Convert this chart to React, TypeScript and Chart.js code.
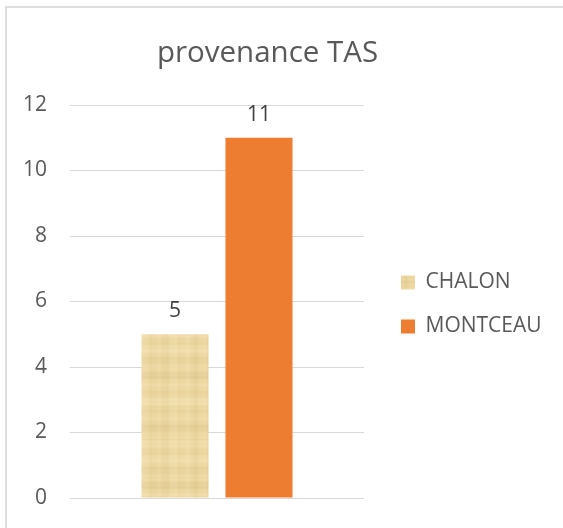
import React, { useEffect, useRef } from "react";
import { Chart, registerables } from "chart.js";

Chart.register(...registerables);

const TITLE = "provenance TAS";
const CATEGORIES = [""];
const SERIES_NAMES = ["CHALON", "MONTCEAU"];
const CHALON_VALUES = [5];
const MONTCEAU_VALUES = [11];
const Y_MIN = 0;
const Y_MAX = 12;
const Y_STEP = 2;

const FONT = "'Open Sans', Lato, sans-serif";
const TEXT_GRAY = "#595959";
const LABEL_GRAY = "#404040";
const ORANGE = "#ED7D31";

function makePapyrus(ctx: CanvasRenderingContext2D): CanvasPattern | string {
  const c = document.createElement("canvas");
  c.width = 70;
  c.height = 110;
  const g = c.getContext("2d");
  if (!g) return "#EDD8A2";
  g.fillStyle = "#EDD8A2";
  g.fillRect(0, 0, c.width, c.height);
  for (let y = 0; y < c.height; y++) {
    const v = 0.5 * Math.sin(y * 0.37 + 0.4) + 0.3 * Math.sin(y * 0.11) + 0.2 * Math.sin(y * 1.3);
    g.fillStyle = v > 0 ? `rgba(250,236,195,${0.4 * v})` : `rgba(200,172,110,${-0.22 * v})`;
    g.fillRect(0, y, c.width, 1);
  }
  for (let x = 0; x < c.width; x++) {
    const v = 0.5 * Math.sin(x * 0.43) + 0.3 * Math.sin(x * 0.17 + 1.3) + 0.2 * Math.sin(x * 1.1);
    g.fillStyle = v > 0 ? `rgba(250,236,195,${0.25 * v})` : `rgba(200,172,110,${-0.15 * v})`;
    g.fillRect(x, 0, 1, c.height);
  }
  return ctx.createPattern(c, "repeat") || "#EDD8A2";
}

const titlePlugin = {
  id: "customTitle",
  afterDraw(chart: any) {
    const ctx = chart.ctx;
    ctx.save();
    ctx.font = `29.5px ${FONT}`;
    ctx.fillStyle = TEXT_GRAY;
    ctx.textAlign = "center";
    ctx.textBaseline = "alphabetic";
    ctx.fillText(TITLE, 267.5, 62);
    ctx.restore();
  },
};

const valueLabelPlugin = {
  id: "valueLabels",
  afterDatasetsDraw(chart: any) {
    const ctx = chart.ctx;
    ctx.save();
    ctx.font = `21px ${FONT}`;
    ctx.fillStyle = LABEL_GRAY;
    ctx.textAlign = "center";
    ctx.textBaseline = "alphabetic";
    chart.data.datasets.forEach((ds: any, i: number) => {
      const meta = chart.getDatasetMeta(i);
      meta.data.forEach((bar: any, j: number) => {
        ctx.fillText(String(ds.data[j]), bar.x, bar.y - 17);
      });
    });
    ctx.restore();
  },
};

const legendShift = {
  id: "legendShift",
  afterLayout(chart: any) {
    const l = chart.legend;
    if (!l) return;
    l.left = 378;
    l.right = 563;
    l.top += 3;
    l.bottom += 3;
  },
};

export default function App() {
  const ref = useRef<HTMLCanvasElement | null>(null);

  useEffect(() => {
    const canvas = ref.current;
    if (!canvas) return;
    const ctx = canvas.getContext("2d");
    if (!ctx) return;
    const papyrus = makePapyrus(ctx);

    const chart = new Chart(canvas, {
      type: "bar",
      data: {
        labels: CATEGORIES,
        datasets: [
          {
            label: SERIES_NAMES[0],
            data: CHALON_VALUES,
            backgroundColor: papyrus as any,
            borderWidth: 0,
          },
          {
            label: SERIES_NAMES[1],
            data: MONTCEAU_VALUES,
            backgroundColor: ORANGE,
            borderWidth: 0,
          },
        ],
      },
      options: {
        animation: false,
        responsive: false,
        maintainAspectRatio: false,
        devicePixelRatio: 1,
        layout: { padding: { top: 105, bottom: 30, left: 23, right: 99 } },
        datasets: {
          bar: { categoryPercentage: 0.5714, barPercentage: 0.798 },
        },
        plugins: {
          title: { display: false },
          tooltip: { enabled: false },
          legend: {
            display: true,
            position: "right",
            align: "center",
            maxWidth: 100,
            labels: {
              boxWidth: 14,
              boxHeight: 14,
              padding: 23,
              color: TEXT_GRAY,
              font: { family: FONT, size: 21 },
            },
          },
        },
        scales: {
          x: { display: false },
          y: {
            min: Y_MIN,
            max: Y_MAX,
            afterFit: (s: any) => {
              s.width = 47;
            },
            ticks: {
              stepSize: Y_STEP,
              padding: 0,
              color: TEXT_GRAY,
              font: { family: FONT, size: 21 },
            },
            grid: {
              color: "#D9D9D9",
              lineWidth: 1,
              drawTicks: true,
              tickLength: 23,
              tickColor: "rgba(0,0,0,0)",
            },
            border: { display: false },
          },
        },
      },
      plugins: [titlePlugin, valueLabelPlugin, legendShift],
    });
    return () => chart.destroy();
  }, []);

  return (
    <div
      style={{
        position: "fixed",
        left: 0,
        top: 0,
        width: 563,
        height: 528,
        overflow: "hidden",
        background: "#fff",
      }}
    >
      <div
        style={{
          position: "absolute",
          left: 5,
          top: 6,
          width: 700,
          height: 700,
          border: "2px solid #DEDEDE",
        }}
      />
      <canvas
        ref={ref}
        width={563}
        height={528}
        style={{ position: "absolute", left: 0, top: 0, width: 563, height: 528 }}
      />
    </div>
  );
}
